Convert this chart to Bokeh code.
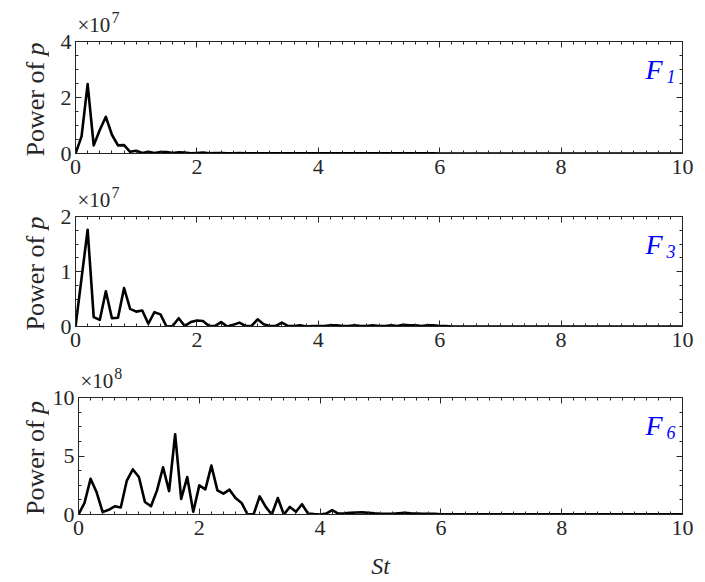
import numpy as np
from math import pi
from bokeh.plotting import figure
from bokeh.models import Range1d, LinearAxis, SingleIntervalTicker, Label
from bokeh.layouts import column, row
from bokeh.embed import file_html
from bokeh.resources import INLINE

# ---------------- data ----------------
st = np.round(np.arange(0, 101) * 0.1, 1)  # Strouhal number grid 0..10

# Power of p for F1, in units of 1e7
f1_power = [0.00, 0.61, 2.48, 0.29, 0.84, 1.31, 0.67, 0.29, 0.30, 0.06,
            0.10, 0.02, 0.06, 0.02, 0.05, 0.05, 0.02, 0.04, 0.03, 0.01,
            0.02, 0.03, 0.01, 0.02, 0.02, 0.01, 0.01, 0.02, 0.01, 0.01,
            0.01, 0.01, 0.01, 0.01, 0.01, 0.01, 0.01, 0.01, 0.01, 0.01,
            0.01, 0.01, 0.01, 0.01, 0.01, 0.01, 0.01, 0.01, 0.01, 0.01,
            0.01, 0.01, 0.01, 0.01, 0.01, 0.01, 0.01, 0.01, 0.01, 0.01,
            0.00, 0.00, 0.00, 0.00, 0.00, 0.00, 0.00, 0.00, 0.00, 0.00,
            0.00, 0.00, 0.00, 0.00, 0.00, 0.00, 0.00, 0.00, 0.00, 0.00,
            0.00, 0.00, 0.00, 0.00, 0.00, 0.00, 0.00, 0.00, 0.00, 0.00,
            0.00, 0.00, 0.00, 0.00, 0.00, 0.00, 0.00, 0.00, 0.00, 0.00,
            0.00]

# Power of p for F3, in units of 1e7
f3_power = [0.00, 0.88, 1.76, 0.17, 0.12, 0.64, 0.15, 0.16, 0.70, 0.32,
            0.27, 0.29, 0.05, 0.26, 0.22, 0.00, 0.01, 0.15, 0.01, 0.08,
            0.11, 0.10, 0.01, 0.01, 0.08, 0.00, 0.03, 0.07, 0.01, 0.01,
            0.13, 0.04, 0.01, 0.01, 0.07, 0.01, 0.01, 0.02, 0.00, 0.01,
            0.01, 0.01, 0.02, 0.02, 0.01, 0.01, 0.02, 0.01, 0.01, 0.02,
            0.01, 0.01, 0.02, 0.01, 0.03, 0.02, 0.02, 0.01, 0.02, 0.02,
            0.01, 0.01, 0.00, 0.00, 0.00, 0.00, 0.00, 0.00, 0.00, 0.00,
            0.00, 0.00, 0.00, 0.00, 0.00, 0.00, 0.00, 0.00, 0.00, 0.00,
            0.00, 0.00, 0.00, 0.00, 0.00, 0.00, 0.00, 0.00, 0.00, 0.00,
            0.00, 0.00, 0.00, 0.00, 0.00, 0.00, 0.00, 0.00, 0.00, 0.00,
            0.00]

# Power of p for F6, in units of 1e8
f6_power = [0.00, 1.00, 3.05, 1.90, 0.20, 0.40, 0.70, 0.60, 2.90, 3.85,
            3.20, 1.07, 0.70, 2.06, 4.04, 2.00, 6.86, 1.33, 3.20, 0.23,
            2.49, 2.15, 4.18, 2.06, 1.78, 2.12, 1.41, 0.99, 0.00, 0.03,
            1.55, 0.65, 0.00, 1.41, 0.00, 0.65, 0.23, 0.88, 0.08, 0.03,
            0.00, 0.08, 0.37, 0.08, 0.10, 0.14, 0.17, 0.18, 0.15, 0.10,
            0.07, 0.06, 0.07, 0.10, 0.14, 0.10, 0.08, 0.06, 0.07, 0.05,
            0.02, 0.02, 0.01, 0.02, 0.01, 0.01, 0.01, 0.01, 0.01, 0.01,
            0.01, 0.01, 0.02, 0.01, 0.01, 0.01, 0.01, 0.01, 0.01, 0.01,
            0.01, 0.01, 0.01, 0.01, 0.01, 0.01, 0.01, 0.01, 0.01, 0.01,
            0.01, 0.01, 0.01, 0.01, 0.01, 0.01, 0.01, 0.01, 0.01, 0.01,
            0.01]

panel_subs = ["1", "3", "6"]
panel_ymax = [4, 2, 10]
panel_yint = [2, 1, 5]
panel_exp = ["7", "7", "8"]
x_label = "St"
y_label_main = "Power of"
y_label_var = "p"

AX = "#262626"
SERIF = "Liberation Serif"
W = 705
WL = 49            # width of the y-label strip
WR = W - WL        # width of the panel column
BL = 75 - WL       # panel left border
BR = WR - BL - 607 # panel right border
PT = 8             # panel top border (room for the top tick label)


def blank(width, height, xr, yr, left=0, right=0, top=0, bottom=0):
    f = figure(width=width, height=height, output_backend="svg", toolbar_location=None,
               x_range=Range1d(*xr), y_range=Range1d(*yr),
               x_axis_type=None, y_axis_type=None, min_border=0,
               min_border_left=left, min_border_right=right,
               min_border_top=top, min_border_bottom=bottom)
    f.outline_line_color = None
    f.grid.visible = False
    return f


def make_panel(vals, ymax, yint, sub, height, bottom, xlabel=None):
    p = figure(width=WR, height=height, output_backend="svg", toolbar_location=None,
               x_range=Range1d(0, 10), y_range=Range1d(0, ymax),
               x_axis_type=None, y_axis_type=None,
               min_border=0, min_border_left=BL, min_border_right=BR,
               min_border_top=PT, min_border_bottom=bottom)
    p.outline_line_color = AX
    p.outline_line_width = 1

    for loc in ["below", "above", "left", "right"]:
        if loc in ("below", "above"):
            tk = SingleIntervalTicker(interval=2, num_minor_ticks=10)
        else:
            tk = SingleIntervalTicker(interval=yint, num_minor_ticks=4)
        ax = LinearAxis(ticker=tk)
        ax.axis_line_color = AX
        ax.major_tick_line_color = AX
        ax.minor_tick_line_color = AX
        ax.major_tick_in = 6
        ax.major_tick_out = 0
        ax.minor_tick_in = 3
        ax.minor_tick_out = 0
        if loc in ("below", "left"):
            ax.major_label_text_font = SERIF
            ax.major_label_text_font_size = "22px"
            ax.major_label_text_color = AX
            ax.major_label_standoff = 6 if loc == "below" else 4
        else:
            ax.major_label_text_font_size = "0px"
            ax.major_label_text_alpha = 0
            ax.major_label_standoff = 0
        if loc == "below" and xlabel:
            ax.axis_label = xlabel
            ax.axis_label_text_font = SERIF
            ax.axis_label_text_font_size = "24px"
            ax.axis_label_text_font_style = "italic"
            ax.axis_label_text_color = AX
            ax.axis_label_standoff = 15
        p.add_layout(ax, loc)

    p.line(st, vals, line_color="black", line_width=2.6, line_join="round")

    p.add_layout(Label(x=10, y=ymax, x_offset=-37, y_offset=-28, text="F",
                       text_font=SERIF, text_font_size="28px", text_font_style="italic",
                       text_color="#0000ff", text_baseline="middle", text_align="left"))
    p.add_layout(Label(x=10, y=ymax, x_offset=-16, y_offset=-35, text=sub,
                       text_font=SERIF, text_font_size="18px", text_font_style="italic",
                       text_color="#0000ff", text_baseline="middle", text_align="left"))
    return p


def exp_strip(height, expo):
    # frame borders equal to the panel's; x in page pixels, y in strip pixels
    f = blank(WR, height, (75, 682), (0, height), left=BL, right=BR)
    f.add_layout(Label(x=77, y=9, text="\u00d710", text_font=SERIF, text_font_size="21px",
                       text_color=AX, text_baseline="middle", text_align="left"))
    f.add_layout(Label(x=111, y=16, text=expo, text_font=SERIF, text_font_size="16px",
                       text_color=AX, text_baseline="middle", text_align="left"))
    return f


def ylab_strip(height, center_from_bottom):
    f = blank(WL, height, (0, WL), (0, height))
    f.add_layout(Label(x=35, y=center_from_bottom - 59, text=y_label_main, angle=pi / 2,
                       text_font=SERIF, text_font_size="26px", text_color=AX,
                       text_baseline="middle", text_align="left"))
    f.add_layout(Label(x=35, y=center_from_bottom + 42, text=y_label_var, angle=pi / 2,
                       text_font=SERIF, text_font_size="26px", text_font_style="italic",
                       text_color=AX, text_baseline="middle", text_align="left"))
    return f


# (strip height, panel frame height, panel bottom border); groups are 183, 180, 219 px tall
groups = [
    (33, 112, 30),
    (25, 110, 37),
    (26, 117, 68),
]
series = [f1_power, f3_power, f6_power]

rows = []
for i, (sh, fh, bot) in enumerate(groups):
    ph = PT + fh + bot
    pan = make_panel(series[i], panel_ymax[i], panel_yint[i], panel_subs[i], ph, bot,
                     xlabel=x_label if i == 2 else None)
    ex = exp_strip(sh, panel_exp[i])
    gh = sh + ph
    center = bot + fh / 2.0
    yl = ylab_strip(gh, center)
    rows.append(row(yl, column(ex, pan, spacing=0), spacing=0))

layout = column(*rows, spacing=0)
open("out.html", "w").write(file_html(layout, INLINE))
